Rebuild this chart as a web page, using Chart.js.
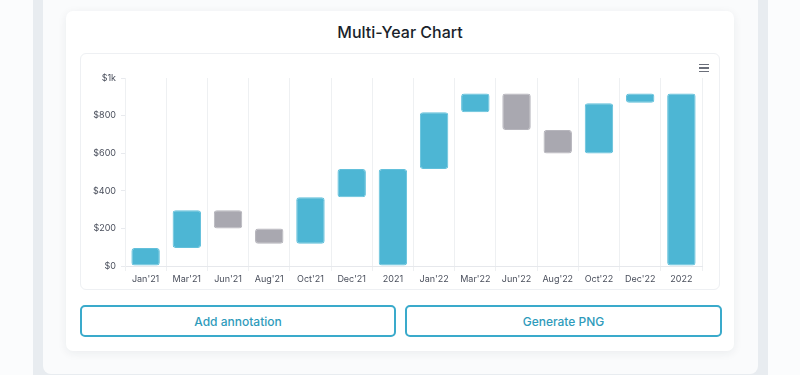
<!DOCTYPE html>
<html>
<head>
<meta charset="utf-8">
<script src="https://cdn.jsdelivr.net/npm/chart.js@4/dist/chart.umd.min.js"></script>
<style>
  html, body { margin: 0; padding: 0; width: 800px; height: 375px; overflow: hidden; background: #fbfcfd; font-family: Inter, "Noto Sans", sans-serif; }
  .band { position: absolute; left: 33px; top: -20px; width: 735px; height: 400px; background: #e8ecf0; }
  .panel { position: absolute; left: 43px; top: -20px; width: 715px; height: 394px; background: #fafbfc; border-radius: 0 0 8px 8px; }
  .card { position: absolute; left: 66px; top: 11px; width: 668px; height: 340px; background: #fff; border-radius: 7px; box-shadow: 0 2px 10px rgba(30,40,60,0.07); }
  .title { position: absolute; left: 66px; top: 22px; width: 668px; text-align: center; font-size: 16px; font-weight: 500; color: #1a1f2b; }
  .box { position: absolute; left: 80px; top: 53px; width: 640px; height: 237px; box-sizing: border-box; border: 1px solid #eef0f3; border-radius: 6px; background: #fff; }
  .chartwrap { position: absolute; left: 80px; top: 53px; width: 640px; height: 237px; }
  .menu { position: absolute; left: 699px; top: 64px; width: 10px; height: 8px; }
  .menu span { display: block; height: 1.3px; background: #6b6f7a; margin-bottom: 2px; }
  .btn { position: absolute; top: 305px; height: 32px; box-sizing: border-box; border: 2px solid #3aaacb; border-radius: 5px; color: #2f9bbb; font-size: 12px; font-weight: 500; display: flex; align-items: center; justify-content: center; background: #fff; }
</style>
</head>
<body>
<div class="band"></div>
<div class="panel"></div>
<div class="card"></div>
<div class="title">Multi-Year Chart</div>
<div class="box"></div>
<div class="chartwrap"><canvas id="c"></canvas></div>
<div class="menu"><span></span><span></span><span></span></div>
<div class="btn" style="left:80px;width:316px;">Add annotation</div>
<div class="btn" style="left:405px;width:317px;">Generate PNG</div>
<script>
const categories = ["Jan'21","Mar'21","Jun'21","Aug'21","Oct'21","Dec'21","2021","Jan'22","Mar'22","Jun'22","Aug'22","Oct'22","Dec'22","2022"];
const barStart = [0, 96, 296, 200, 118, 366, 0, 516, 818, 918, 724, 598, 868, 0];
const barEnd   = [96, 296, 200, 118, 366, 516, 516, 818, 918, 724, 598, 866, 918, 918];
const yTickLabels = ["$0", "$200", "$400", "$600", "$800", "$1k"];

const upColor = '#4db6d4';
const downColor = '#a9a8b0';
const ranges = categories.map((c, i) => [barStart[i], barEnd[i]]);
const colors = categories.map((c, i) => barEnd[i] < barStart[i] ? downColor : upColor);

Chart.defaults.font.family = 'Inter, "Noto Sans", sans-serif';

new Chart(document.getElementById('c'), {
  type: 'bar',
  data: {
    labels: categories,
    datasets: [{
      data: ranges,
      backgroundColor: colors,
      borderColor: colors.map(c => c === upColor ? '#62c0db' : '#b6b5bc'),
      borderWidth: 1,
      borderRadius: 3,
      borderSkipped: false,
      barPercentage: 0.69,
      categoryPercentage: 1
    }]
  },
  options: {
    responsive: true,
    maintainAspectRatio: false,
    animation: false,
    layout: { padding: { top: 25, right: 18, bottom: 0, left: 0 } },
    plugins: { legend: { display: false }, tooltip: { enabled: false }, title: { display: false } },
    scales: {
      x: {
        offset: true,
        grid: { color: '#eef0f2', lineWidth: 1, tickLength: 5, offset: true },
        border: { display: true, color: '#e6e8ec' },
        ticks: { color: '#4a4f5c', font: { size: 9 }, padding: 3, maxRotation: 0, autoSkip: false },
        afterFit: (s) => { s.height = 24; }
      },
      y: {
        min: 0,
        max: 1000,
        ticks: {
          stepSize: 200,
          color: '#4a4f5c',
          font: { size: 9 },
          padding: 5,
          callback: (v, i) => yTickLabels[i]
        },
        grid: { drawOnChartArea: false, tickLength: 4, color: '#e8eaee' },
        border: { display: true, color: '#eef0f2' },
        afterFit: (s) => { s.width = 45; }
      }
    }
  }
});
</script>
</body>
</html>
